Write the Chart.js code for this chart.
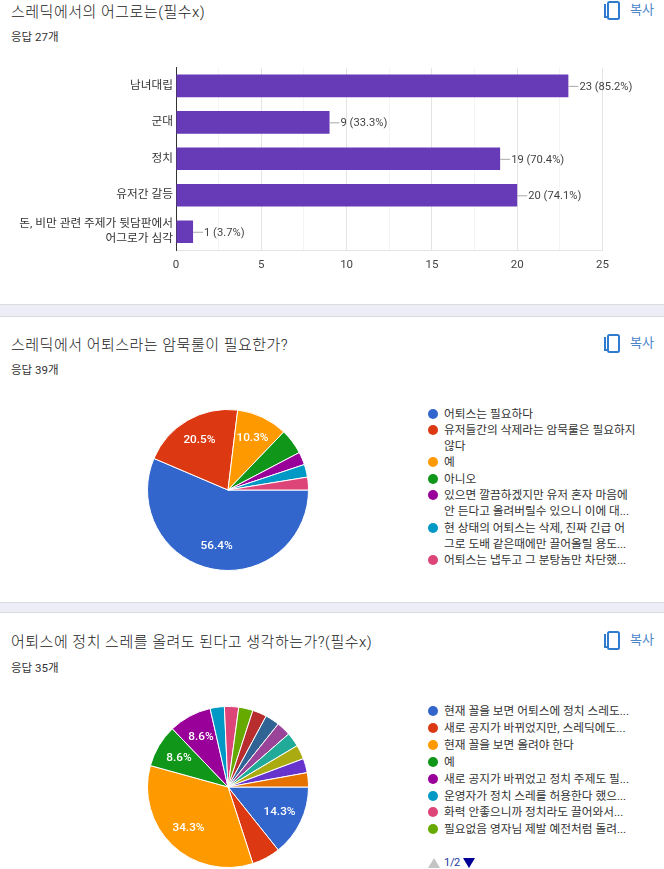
<!DOCTYPE html>
<html lang="ko">
<head>
<meta charset="utf-8">
<title>설문 응답 요약</title>
<script src="https://cdn.jsdelivr.net/npm/chart.js@4/dist/chart.umd.min.js"></script>
<style>
  html, body { margin: 0; padding: 0; background: #fff; }
  body { position: relative; width: 664px; height: 869px; overflow: hidden; font-family: Roboto, "Noto Sans CJK KR", sans-serif; color: #212121; }
  canvas { position: absolute; }
  .title { position: absolute; left: 11px; font-size: 15px; font-weight: 300; line-height: 20px; letter-spacing: 0.5px; white-space: nowrap; }
  .count { position: absolute; left: 11px; font-size: 11.5px; line-height: 16px; color: #333; white-space: nowrap; }
  .copy { position: absolute; left: 603px; width: 18px; height: 20px; }
  .copy-text { position: absolute; left: 630px; font-size: 13px; line-height: 16px; color: #4a86c8; }
  .band { position: absolute; left: 0; width: 664px; background: #ecedf7; border-top: 1px solid #dadce0; border-bottom: 1px solid #dadce0; }
  .legend { position: absolute; left: 428px; width: 236px; font-size: 11.7px; color: #333; }
  .legend div { position: relative; padding-left: 16px; white-space: pre; }
  .legend i { position: absolute; left: 0; width: 10px; height: 10px; border-radius: 50%; }
  .arrow { position: absolute; width: 0; height: 0; border-left: 6px solid transparent; border-right: 6px solid transparent; }
  #pager { position: absolute; left: 444px; top: 855px; font-size: 11px; line-height: 16px; letter-spacing: -0.3px; color: #1a3aa0; }
</style>
</head>
<body>
<div class="title" style="top:2px">스레딕에서의 어그로는(필수x)</div>
<div class="count" style="top:29px">응답 27개</div>
<div class="band" style="top:304px;height:11px"></div>
<div class="title" style="top:335px">스레딕에서 어퇴스라는 암묵룰이 필요한가?</div>
<div class="count" style="top:362px">응답 39개</div>
<div class="band" style="top:602px;height:9px"></div>
<div class="title" style="top:632px">어퇴스에 정치 스레를 올려도 된다고 생각하는가?(필수x)</div>
<div class="count" style="top:660px">응답 35개</div>

<canvas id="aggroChart" width="664" height="240" style="left:0;top:50px"></canvas>
<canvas id="needChart" width="220" height="180" style="left:118px;top:400px"></canvas>
<canvas id="politicsChart" width="220" height="180" style="left:118px;top:697px"></canvas>

<div class="legend" id="needLegend" style="top:405.5px;line-height:16.3px"></div>
<div class="legend" id="politicsLegend" style="top:703px;line-height:16.9px"></div>

<div class="arrow" style="left:428px;top:858px;border-bottom:10px solid #c4c4c4"></div>
<div id="pager">1/2</div>
<div class="arrow" style="left:463px;top:858px;border-top:10px solid #000099"></div>

<script>
const aggroLabels = ["남녀대립", "군대", "정치", "유저간 갈등", ["돈, 비만 관련 주제가 뒷담판에서", "어그로가 심각"]];
const aggroValues = [23, 9, 19, 20, 1];
const aggroTotal = 27;

const needLabels = [
  "어퇴스는 필요하다",
  "유저들간의 삭제라는 암묵룰은 필요하지\n않다",
  "예",
  "아니오",
  "있으면 깔끔하겠지만 유저 혼자 마음에\n안 든다고 올려버릴수 있으니 이에 대...",
  "현 상태의 어퇴스는 삭제, 진짜 긴급 어\n그로 도배 같은때에만 끌어올릴 용도...",
  "어퇴스는 냅두고 그 분탕놈만 차단했..."
];
const needValues = [22, 8, 4, 2, 1, 1, 1];

const politicsLabels = [
  "현재 꼴을 보면 어퇴스에 정치 스레도...",
  "새로 공지가 바뀌었지만, 스레딕에도...",
  "현재 꼴을 보면 올려야 한다",
  "예",
  "새로 공지가 바뀌었고 정치 주제도 필...",
  "운영자가 정치 스레를 허용한다 했으...",
  "화력 안좋으니까 정치라도 끌어와서...",
  "필요없음 영자님 제발 예전처럼 돌려..."
];
const politicsValues = [5, 2, 12, 3, 3, 1, 1, 1, 1, 1, 1, 1, 1, 1, 1];

const sliceColors = [
  "#3366cc", "#dc3912", "#ff9900", "#109618", "#990099",
  "#0099c6", "#dd4477", "#66aa00", "#b82e2e", "#316395",
  "#994499", "#22aa99", "#aaaa11", "#6633cc", "#e67300"
];
const barColor = "#673ab7";
const chartFont = 'Roboto, "Noto Sans CJK KR", sans-serif';

// Copy icon and label for each question header
[1, 334, 631].forEach(function (top) {
  const holder = document.createElement("div");
  holder.innerHTML =
    '<svg class="copy" style="top:' + top + 'px" viewBox="0 0 18 20" fill="none" stroke="#2f7bd0" stroke-width="2">' +
    '<path d="M2 3v13h3"/><rect x="5" y="1" width="11" height="17" rx="1.5"/></svg>' +
    '<div class="copy-text" style="top:' + (top + 1) + 'px">복사</div>';
  document.body.appendChild(holder);
});

function fillLegend(id, labels) {
  const box = document.getElementById(id);
  labels.forEach(function (label, i) {
    const row = document.createElement("div");
    row.textContent = label;
    const dot = document.createElement("i");
    dot.style.background = sliceColors[i];
    dot.style.top = "3px";
    row.appendChild(dot);
    box.appendChild(row);
  });
}
fillLegend("needLegend", needLabels);
fillLegend("politicsLegend", politicsLabels);

// Leader line and "count (percent)" text at the end of each bar
const barValueLabels = {
  id: "barValueLabels",
  afterDatasetsDraw(chart) {
    const ctx = chart.ctx;
    const y = chart.scales.y;
    const x = chart.scales.x;
    ctx.save();
    ctx.font = "11.2px " + chartFont;
    ctx.textBaseline = "middle";
    aggroValues.forEach(function (v, i) {
      const endX = x.getPixelForValue(v);
      const midY = y.getPixelForValue(i);
      ctx.strokeStyle = "#a8a8a8";
      ctx.beginPath();
      ctx.moveTo(endX, midY + 0.5);
      ctx.lineTo(endX + 10, midY + 0.5);
      ctx.stroke();
      ctx.fillStyle = "#444";
      ctx.fillText(v + " (" + (v / aggroTotal * 100).toFixed(1) + "%)", endX + 11, midY + 1);
    });
    ctx.restore();
  }
};

// Percent text inside the larger pie slices
const sliceLabels = {
  id: "sliceLabels",
  afterDatasetsDraw(chart) {
    const ctx = chart.ctx;
    const values = chart.data.datasets[0].data;
    const total = values.reduce((sum, v) => sum + v, 0);
    ctx.save();
    ctx.font = "500 11.8px " + chartFont;
    ctx.fillStyle = "#fff";
    ctx.textAlign = "center";
    ctx.textBaseline = "middle";
    chart.getDatasetMeta(0).data.forEach(function (arc, i) {
      const share = values[i] / total * 100;
      if (share < 8) return;
      const mid = (arc.startAngle + arc.endAngle) / 2;
      const r = arc.outerRadius * 0.71;
      ctx.fillText(share.toFixed(1) + "%", arc.x + Math.cos(mid) * r, arc.y + Math.sin(mid) * r);
    });
    ctx.restore();
  }
};

new Chart(document.getElementById("aggroChart"), {
  type: "bar",
  data: {
    labels: aggroLabels,
    datasets: [{ data: aggroValues, backgroundColor: barColor, categoryPercentage: 1, barPercentage: 0.62 }]
  },
  options: {
    indexAxis: "y",
    responsive: false,
    animation: false,
    layout: { padding: { top: 17, right: 61.5 } },
    plugins: { legend: { display: false }, tooltip: { enabled: false } },
    scales: {
      x: {
        min: 0,
        max: 25,
        afterFit(scale) { scale.height = 40; },
        border: { color: "#e4e4e4" },
        grid: {
          drawTicks: false,
          color: ctx => (ctx.tick && ctx.tick.value % 5 === 0 ? "#e4e4e4" : "#f4f4f4")
        },
        ticks: {
          stepSize: 2.5,
          autoSkip: false,
          maxRotation: 0,
          padding: 8,
          color: "#444",
          font: { family: chartFont, size: 11.5 },
          callback: v => (v % 5 === 0 ? v : "")
        }
      },
      y: {
        afterFit(scale) { scale.width = 176; },
        border: { color: "#333" },
        grid: { display: false, drawTicks: false },
        ticks: {
          autoSkip: false,
          padding: 3,
          color: "#333",
          font: { family: chartFont, size: 11.7, lineHeight: 1.25 }
        }
      }
    }
  },
  plugins: [barValueLabels]
});

function drawPie(id, values) {
  return new Chart(document.getElementById(id), {
    type: "pie",
    data: {
      labels: values.map((v, i) => i),
      datasets: [{ data: values, backgroundColor: sliceColors, borderColor: "#fff", borderWidth: 1 }]
    },
    options: {
      responsive: false,
      animation: false,
      rotation: 90,
      layout: { padding: 9 },
      plugins: { legend: { display: false }, tooltip: { enabled: false } }
    },
    plugins: [sliceLabels]
  });
}
drawPie("needChart", needValues);
drawPie("politicsChart", politicsValues);
</script>
</body>
</html>
